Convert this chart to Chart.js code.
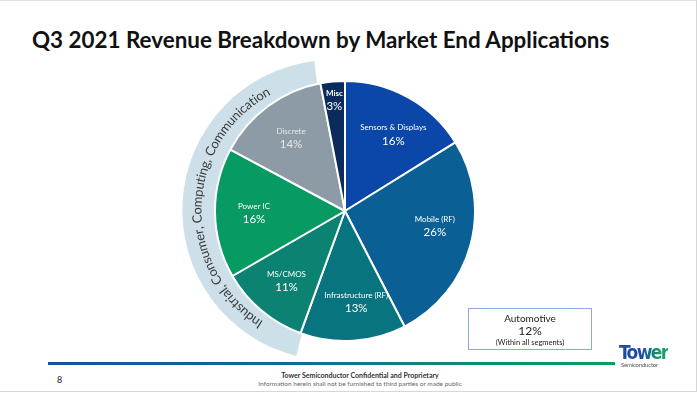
<!DOCTYPE html>
<html>
<head>
<meta charset="utf-8">
<script src="https://cdn.jsdelivr.net/npm/chart.js@4/dist/chart.umd.min.js"></script>
<style>
  html, body { margin: 0; padding: 0; background: #fff; }
  body { width: 700px; height: 394px; position: relative; overflow: hidden; font-family: Lato, 'Noto Sans', sans-serif; }
  .frame { position: absolute; left: 0; top: 0; width: 697px; height: 392px; border-top: 1px solid #e2e2e2; border-right: 1px solid #d6d6d6; border-bottom: 1px solid #d6d6d6; box-sizing: border-box; }
  .title { position: absolute; left: 32px; top: 28px; font-size: 22.4px; line-height: 24px; font-weight: bold; color: #111; white-space: nowrap; }
  #bandChart { position: absolute; left: 180px; top: 62px; }
  #pieChart { position: absolute; left: 214px; top: 80px; }
  .auto { position: absolute; left: 468px; top: 308px; width: 124px; height: 42px; border: 1px solid #8eaadb; box-sizing: border-box; text-align: center; color: #222; }
  .auto .n { font-size: 10px; margin-top: 3px; line-height: 12px; }
  .auto .v { font-size: 12px; line-height: 14px; }
  .auto .s { font-size: 7.5px; line-height: 10px; }
  .rule { position: absolute; left: 48px; top: 362px; width: 567px; height: 3px; background: linear-gradient(to right, #1b4fa3, #0a6d96 40%, #0a8a7a 70%, #07a05a); }
  .page { position: absolute; left: 57px; top: 374px; font-size: 9px; color: #222; }
  .foot { position: absolute; left: 200px; width: 320px; text-align: center; white-space: nowrap; }
  .foot1 { top: 371px; font-size: 7px; font-weight: bold; color: #333; }
  .foot2 { top: 380px; font-size: 6.5px; color: #666; }
  .logo { position: absolute; left: 619px; top: 343px; }
  .logo .t { font-family: 'DejaVu Sans Condensed', 'DejaVu Sans', sans-serif; font-weight: bold; font-size: 19px; letter-spacing: -1.6px; line-height: 19px;
             background: linear-gradient(to right, #1d4b9e 45%, #15a06a 85%); -webkit-background-clip: text; background-clip: text; color: transparent; }
  .logo .s { font-size: 6px; color: #555; margin-left: 2px; line-height: 6px; letter-spacing: -0.2px; }
</style>
</head>
<body>
<div class="frame"></div>
<div class="title">Q3 2021 Revenue Breakdown by Market End Applications</div>
<canvas id="bandChart" width="300" height="295"></canvas>
<canvas id="pieChart" width="262" height="262"></canvas>
<div class="auto"><div class="n" id="autoName"></div><div class="v" id="autoValue"></div><div class="s">(Within all segments)</div></div>
<div class="rule"></div>
<div class="page">8</div>
<div class="foot foot1">Tower Semiconductor Confidential and Proprietary</div>
<div class="foot foot2">Information herein shall not be furnished to third parties or made public</div>
<div class="logo"><div class="t">Tower</div><div class="s">Semiconductor</div></div>
<script>
// clockwise from 12 o'clock
const categories = ['Sensors & Displays', 'Mobile (RF)', 'Infrastructure (RF)', 'MS/CMOS', 'Power IC', 'Discrete', 'Misc'];
const shares = [16, 26, 13, 11, 16, 14, 3];
const sliceColors = ['#0a47a8', '#0a6094', '#08747f', '#0b8272', '#079a63', '#8c9ba5', '#0b2b5c'];

const bandMembers = ['MS/CMOS', 'Power IC', 'Discrete'];
const bandLabel = 'Industrial, Consumer, Computing, Communication';

const automotiveLabel = 'Automotive';
const automotiveShare = 12;

document.getElementById('autoName').innerText = automotiveLabel;
document.getElementById('autoValue').innerText = automotiveShare + '%';

const bandShare = bandMembers.reduce((s, c) => s + shares[categories.indexOf(c)], 0);

// curved text along the light band
const curvedText = {
    id: 'curvedText',
    afterDraw(chart) {
        const arc = chart.getDatasetMeta(0).data[0];
        const ctx = chart.ctx;
        const r = arc.outerRadius - 15;
        const mid = (arc.startAngle + arc.endAngle) / 2 + Math.PI / 2 - 0.03;
        ctx.save();
        ctx.font = "13px Lato, 'Noto Sans', sans-serif";
        ctx.fillStyle = '#3a3a3a';
        ctx.textAlign = 'center';
        ctx.textBaseline = 'middle';
        const total = ctx.measureText(bandLabel).width;
        let a = mid - total / 2 / r;
        for (const ch of bandLabel) {
            const w = ctx.measureText(ch).width;
            const t = a + w / 2 / r;
            ctx.save();
            ctx.translate(arc.x + r * Math.sin(t), arc.y - r * Math.cos(t));
            ctx.rotate(t);
            ctx.fillText(ch, 0, 0);
            ctx.restore();
            a += w / r;
        }
        ctx.restore();
    }
};

const bandCanvas = document.getElementById('bandChart');
const band = new Chart(bandCanvas, {
    type: 'doughnut',
    data: {
        labels: [bandLabel],
        datasets: [{
            data: [bandShare],
            backgroundColor: '#cde0e9',
            borderWidth: 0,
            hoverOffset: 0
        }]
    },
    options: {
        responsive: false,
        animation: false,
        events: [],
        rotation: 194,
        circumference: 159,
        cutout: '60%',
        plugins: { legend: { display: false }, tooltip: { enabled: false } }
    },
    plugins: [curvedText]
});
// the partial ring is re-centred by Chart.js; put its centre at (333, 210)
const bandArc = band.getDatasetMeta(0).data[0];
bandCanvas.style.left = (333 - bandArc.x) + 'px';
bandCanvas.style.top = (210 - bandArc.y) + 'px';

// small angular nudges (degrees) so labels sit where the slide has them
const labelNudge = { 'Sensors & Displays': 3, 'Mobile (RF)': -6.5, 'Infrastructure (RF)': -3.5 };

const sliceLabels = {
    id: 'sliceLabels',
    afterDatasetsDraw(chart) {
        const ctx = chart.ctx;
        chart.getDatasetMeta(0).data.forEach((arc, i) => {
            const mid = (arc.startAngle + arc.endAngle) / 2 + (labelNudge[categories[i]] || 0) * Math.PI / 180;
            const f = categories[i] === 'Misc' ? 0.86 : 0.70;
            const x = arc.x + Math.cos(mid) * arc.outerRadius * f;
            const y = arc.y + Math.sin(mid) * arc.outerRadius * f;
            const col = categories[i] === 'Discrete' ? '#e4e8eb' : '#ffffff';
            ctx.save();
            ctx.fillStyle = col;
            ctx.textAlign = 'center';
            ctx.textBaseline = 'middle';
            ctx.font = (categories[i] === 'Misc' ? 'bold ' : '') + "8px Lato, 'Noto Sans', sans-serif";
            ctx.fillText(categories[i], x, y - 6);
            ctx.font = "11.5px Lato, 'Noto Sans', sans-serif";
            ctx.fillText(shares[i] + '%', x, y + 7);
            ctx.restore();
        });
    }
};

new Chart(document.getElementById('pieChart'), {
    type: 'pie',
    data: {
        labels: categories,
        datasets: [{
            data: shares,
            backgroundColor: sliceColors,
            borderColor: '#ffffff',
            borderWidth: 2,
            hoverOffset: 0,
            offset: 0
        }]
    },
    options: {
        responsive: false,
        animation: false,
        events: [],
        plugins: { legend: { display: false }, tooltip: { enabled: false } }
    },
    plugins: [sliceLabels]
});
</script>
</body>
</html>
